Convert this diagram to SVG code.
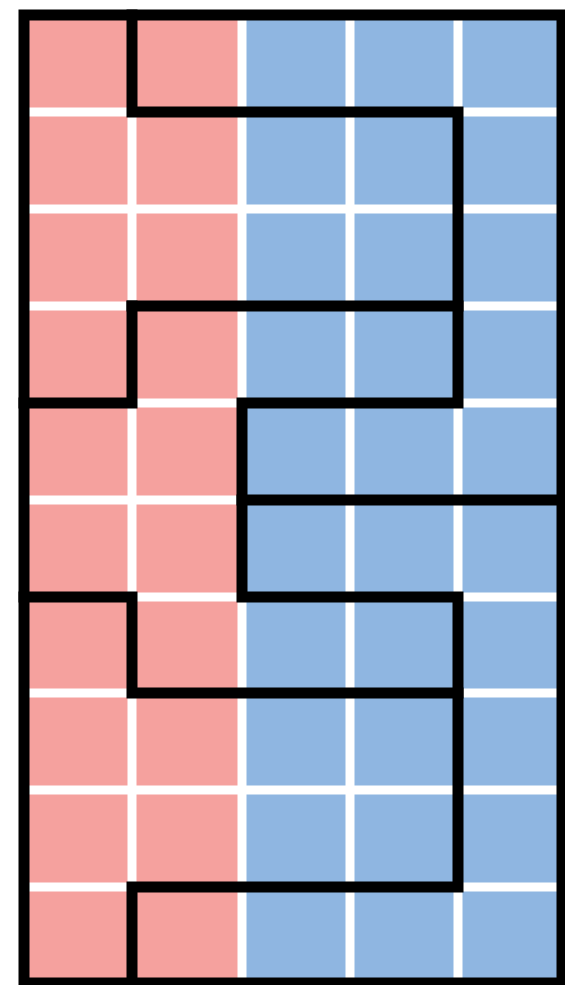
<svg xmlns="http://www.w3.org/2000/svg" width="565" height="985" viewBox="0 0 565 985">
  <style>
    .red { fill: #F5A19E; }
    .blue { fill: #8FB6E1; }
    .grid { stroke: #FFFFFF; stroke-width: 9; fill: none; }
    .bound { stroke: #000000; stroke-width: 11; fill: none; stroke-linecap: square; stroke-linejoin: miter; }
  </style>
  <rect x="0" y="0" width="565" height="985" fill="#FFFFFF"/>
  <g id="cells">
    <rect class="red" x="24" y="15" width="218" height="968"/>
    <rect class="blue" x="242" y="15" width="320" height="968"/>
  </g>
  <g id="grid">
    <path class="grid" d="M132 15V983 M242 15V983 M350 15V983 M458 15V983 M24 112H562 M24 209H562 M24 306H562 M24 403H562 M24 500H562 M24 597H562 M24 693H562 M24 790H562 M24 887H562"/>
  </g>
  <g id="boundaries">
    <rect class="bound" x="24" y="15" width="538" height="968"/>
    <path class="bound" d="M132 15V112H458V403H242V597H458V887H132V983"/>
    <path class="bound" d="M132 306H458"/>
    <path class="bound" d="M24 403H132V306"/>
    <path class="bound" d="M242 500H562"/>
    <path class="bound" d="M24 597H132V693H458"/>
  </g>
</svg>
